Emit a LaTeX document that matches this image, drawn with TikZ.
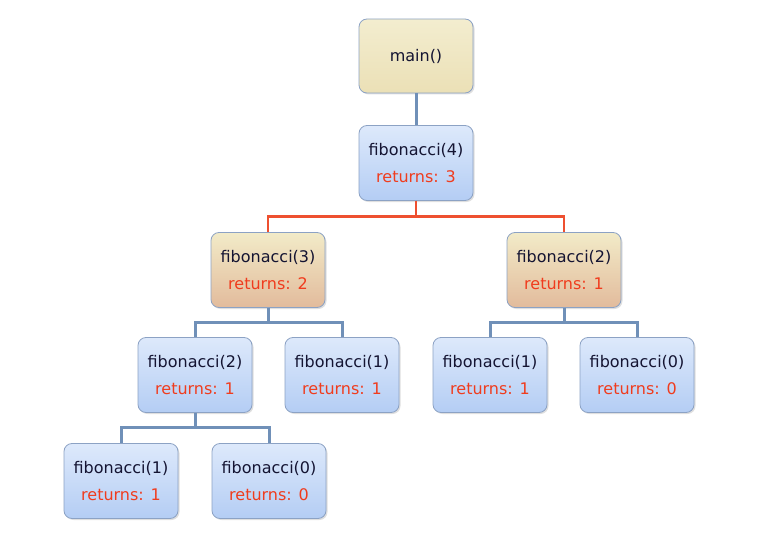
\documentclass[tikz,border=0pt]{standalone}
\usepackage{fontspec}
\setmainfont{DejaVu Sans}
\usepackage{tikz}
\usetikzlibrary{shadows}
\usepackage{xcolor}

\definecolor{calltext}{HTML}{141432}
\definecolor{rettext}{HTML}{F03C1E}
\definecolor{boxline}{HTML}{8CA2C4}
\definecolor{bluetop}{HTML}{DDE9FB}
\definecolor{bluebot}{HTML}{B4CDF4}
\definecolor{tantop}{HTML}{F2EBC8}
\definecolor{tanbot}{HTML}{E2BB9C}
\definecolor{maintop}{HTML}{F3EDCF}
\definecolor{mainbot}{HTML}{EBE0B6}
\definecolor{blueedge}{HTML}{7090B8}
\definecolor{rededge}{HTML}{EE5030}

\newcommand{\fcall}[2]{fibonacci(#1)\\{\color{rettext}returns: #2}}

\begin{document}
\begin{tikzpicture}[x=1pt,y=1pt]
  \tikzstyle{every node}=[font=\fontsize{16}{26.5}\selectfont, text=calltext, align=center]
  \tikzstyle{callbox}=[draw=boxline, line width=0.8pt, rounded corners=8pt,
    minimum width=114pt, minimum height=75pt, inner sep=0pt,
    drop shadow={opacity=0.25, shadow xshift=1.5pt, shadow yshift=-1.5pt}]
  \tikzstyle{bluebox}=[callbox, top color=bluetop, bottom color=bluebot]
  \tikzstyle{tanbox}=[callbox, top color=tantop, bottom color=tanbot]
  \tikzstyle{mainbox}=[callbox, top color=maintop, bottom color=mainbot, minimum height=74pt]
  \tikzstyle{bluewire}=[draw=blueedge, line width=3pt]
  \tikzstyle{redwire}=[draw=rededge, line width=2.6pt]

  \useasboundingbox (0,0) rectangle (763,542);

  \node[mainbox] (main) at (416,486) {main()};
  \node[bluebox] (f_4)  at (416,379) {\fcall{4}{3}};
  \node[tanbox]  (f_3)  at (268,272) {\fcall{3}{2}};
  \node[tanbox]  (f_2)  at (564,272) {\fcall{2}{1}};
  \node[bluebox] (f_32) at (195,167) {\fcall{2}{1}};
  \node[bluebox] (f_31) at (342,167) {\fcall{1}{1}};
  \node[bluebox] (f_21) at (490,167) {\fcall{1}{1}};
  \node[bluebox] (f_20) at (637,167) {\fcall{0}{0}};
  \node[bluebox] (f_21a) at (121,61) {\fcall{1}{1}};
  \node[bluebox] (f_20a) at (269,61) {\fcall{0}{0}};

  \draw[bluewire] (main.south) -- (f_4.north);
  \draw[redwire]  (f_4.south) -- ++(0,-15.5) -| (f_3.north);
  \draw[redwire]  (f_4.south) -- ++(0,-15.5) -| (f_2.north);
  \draw[bluewire] (f_3.south) -- ++(0,-14.5) -| (f_32.north);
  \draw[bluewire] (f_3.south) -- ++(0,-14.5) -| (f_31.north);
  \draw[bluewire] (f_2.south) -- ++(0,-14.5) -| (f_21.north);
  \draw[bluewire] (f_2.south) -- ++(0,-14.5) -| (f_20.north);
  \draw[bluewire] (f_32.south) -- ++(0,-15) -| (f_21a.north);
  \draw[bluewire] (f_32.south) -- ++(0,-15) -| (f_20a.north);
\end{tikzpicture}
\end{document}
